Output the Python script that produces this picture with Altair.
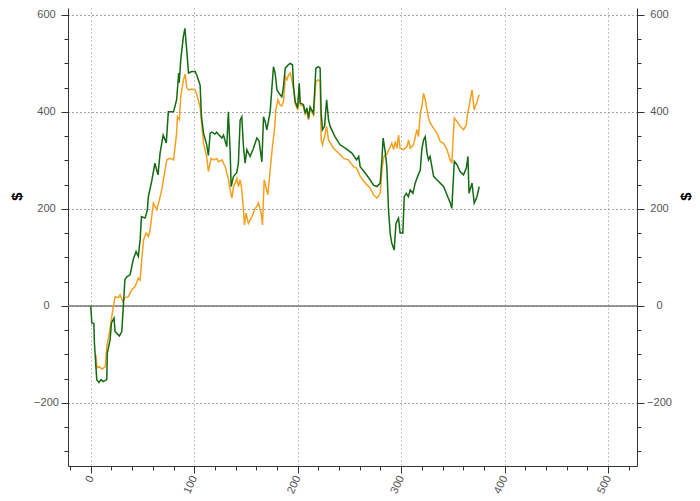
import altair as alt
import pandas as pd

green_x = [0, 1, 3, 3.5, 5.8, 8, 10, 12, 15.5, 16, 18.7, 20, 22.5, 23.5, 27.7, 30, 31.5, 33, 34.8, 38,
           41, 43.8, 46, 47.7, 49, 52.5, 54.7, 55.7, 59, 62, 65, 67, 70, 73, 75, 80, 83, 85, 85.5, 87,
           89.5, 91, 93, 94.5, 97.6, 101, 102.6, 105.7, 107, 109, 112, 113.7, 115.4, 117, 120, 121.7,
           123.3, 126.7, 128.3, 131.5, 133, 134.7, 135.7, 138, 141, 142.7, 144.4, 146, 147.6, 149.2,
           150.9, 154, 157.3, 160.5, 162.7, 165.4, 167, 168.6, 170.2, 173.4, 176.6, 178.2, 180, 183,
           184.7, 186.3, 188, 191, 192.7, 195, 196, 197.6, 200, 201.5, 202.4, 205.6, 207.3, 208.9,
           210.5, 212, 215.3, 217.6, 220, 221.7, 222.7, 224, 226, 228, 229.8, 231.4, 236, 241, 246,
           252.4, 257, 259, 260.4, 265.3, 270, 273.3, 276.6, 279.8, 281.4, 282.6, 284.6, 286.2, 287.8,
           289.5, 291, 293.3, 295, 297.5, 299, 301.7, 303, 305, 307, 308.8, 311.4, 313.6, 316, 318.5,
           320, 321.7, 323.3, 325, 326.5, 328, 331.4, 334.6, 337.8, 341, 344.3, 347.5, 349, 351.4,
           354, 357, 360.3, 363, 364.6, 365.6, 368.5, 370.7, 373.3, 375.5]
green_y = [0, -35, -36, -76, -152, -158, -152, -156, -152, -97, -70, -35, -25, -53, -62, -53, 0, 54, 60, 64,
           95, 112, 102, 136, 184, 181, 198, 225, 258, 294, 270, 315, 352, 336, 400, 400, 425, 480, 460, 507,
           555, 572, 521, 480, 483, 483, 475, 455, 390, 356, 333, 310, 356, 358, 354, 358,
           354, 346, 352, 328, 400, 322, 246, 267, 274, 294, 383, 390, 328, 294,
           322, 308, 325, 346, 340, 297, 390, 380, 363, 400, 493, 480, 445, 435,
           431, 452, 490, 497, 500, 497, 452, 421, 408, 459, 418, 415, 397, 408,
           387, 410, 397, 490, 493, 490, 397, 363, 370, 425, 384, 370, 349, 332, 325,
           315, 301, 308, 287, 274, 260, 249, 246, 253, 301, 346, 318, 287, 198,
           148, 129, 115, 170, 181, 150, 150, 225, 232, 225, 239, 232, 253, 267, 280,
           322, 342, 349, 315, 301, 308, 267, 260, 253, 246, 229, 212, 201, 298,
           291, 277, 270, 284, 308, 232, 253, 212, 225, 246]

orange_x = [5, 5.8, 8, 11, 14, 15.5, 18, 20.3, 22, 23.5, 26.8, 28.3, 31, 33, 36.4, 39.6, 42.8, 46, 47.7,
            49.3, 51, 53.5, 55.7, 57.4, 60.5, 63.8, 66.4, 68.7, 70.2, 73.5, 76.7, 80, 81.5, 83, 83.8,
            85.7, 87, 89.6, 91.2, 92.8, 94.4, 97.7, 101, 102.5, 105.7, 109, 112, 113.7, 116.3, 118.7,
            121.9, 123.5, 126.7, 129.9, 131.5, 133, 134.7, 136.4, 138, 139.6, 141.2, 142.8, 144.4, 146,
            147.6, 148.6, 150, 152.4, 155.7, 158.9, 160.5, 162.1, 164.7, 166, 167.6, 169.2, 171.2,
            173.4, 175.6, 177.6, 178.9, 180.9, 183, 184.7, 186.3, 188, 189.6, 191.2, 192.7, 194, 196,
            197.6, 200, 201.5, 202.4, 205.6, 207.3, 208.9, 210.5, 212, 215.3, 217.6, 220, 221.7, 222.7,
            224, 226, 228, 229.8, 234.6, 239.5, 244.3, 249, 254, 257, 260.4, 265.3, 270, 273.3, 276.6,
            279.8, 281.4, 283, 284, 286.2, 289.5, 291, 292.7, 294.3, 296, 297.5, 299, 302.3, 305.6,
            307.2, 308.8, 312, 315.2, 316.8, 318.5, 320, 321.7, 323.3, 325, 326.5, 328.1, 331.4, 334.6,
            337.8, 341, 344.3, 347.5, 349, 350, 351.4, 354, 357.2, 360.3, 363, 364.3, 366.2, 368.5,
            370.7, 373.3, 375.5]
orange_y = [-101, -128, -125, -130, -125, -84, -56, -22, 0, 19, 17, 23, 9, 17, 19, 33, 40, 57, 53,
            95, 136, 150, 143, 157, 212, 198, 219, 240, 260, 301, 304, 301, 328, 356, 390,
            384, 432, 466, 478, 450, 445, 447, 445, 436, 410, 335, 308, 277, 304, 301,
            304, 297, 301, 287, 274, 263, 239, 222, 246, 253, 263, 246, 260, 239,
            198, 167, 191, 170, 184, 201, 205, 212, 191, 167, 260, 246, 229,
            280, 328, 363, 404, 425, 414, 412, 421, 473, 466, 476, 480, 470, 448,
            417, 404, 455, 414, 411, 393, 404, 383, 406, 393, 462, 466, 462, 342,
            332, 349, 370, 342, 325, 315, 304, 301, 287, 284, 267, 253, 243, 229, 222,
            232, 280, 304, 310, 313, 328, 335, 322, 339, 325, 352, 325, 322, 328,
            342, 325, 332, 363, 349, 397, 411, 438, 425, 404, 387, 377, 366, 356,
            339, 335, 322, 301, 294, 335, 387, 380, 370, 363, 373, 397, 418, 445,
            404, 421, 435]

green_df = pd.DataFrame({"x": green_x, "y": green_y})
orange_df = pd.DataFrame({"x": orange_x, "y": orange_y})
zero_df = pd.DataFrame({"y": [0]})

X_DOMAIN = [-22, 528]
Y_DOMAIN = [-330, 614]
y_ticks = list(range(-300, 601, 50))
x_ticks = list(range(-20, 521, 20))

major_y = "datum.value % 200 == 0"
major_x = "datum.value % 100 == 0"


def y_axis(orient, title_x):
    return alt.Axis(
        orient=orient,
        values=y_ticks,
        labelExpr=f"{major_y} ? datum.label : ''",
        title="$",
        titleFont="Liberation Sans",
        titleFontSize=15,
        titleFontWeight="bold",
        titleColor="#000000",
        titleAngle=270,
        titleX=title_x,
        titleY=188,
        titleAlign="center",
        titleBaseline="middle",
        labelFont="Liberation Sans",
        labelFontSize=11,
        labelColor="#555555",
        labelAlign="center",
        labelBaseline="middle",
        labelPadding=15,
        tickColor="#333333",
        tickSize={"condition": {"test": major_y, "value": 7}, "value": 4},
        domainColor="#333333",
        grid=True,
        gridColor="#888888",
        gridDash=[1, 3],
        gridOpacity={"condition": {"test": major_y, "value": 1}, "value": 0},
    )


def x_axis():
    return alt.Axis(
        orient="bottom",
        values=x_ticks,
        labelExpr=f"{major_x} ? datum.label : ''",
        title=None,
        labelFont="Liberation Sans",
        labelFontSize=11,
        labelColor="#555555",
        labelAngle=-65,
        labelAlign="right",
        labelBaseline="middle",
        labelPadding=3,
        tickColor="#333333",
        tickSize={"condition": {"test": major_x, "value": 7}, "value": 4},
        domainColor="#333333",
        grid=True,
        gridColor="#888888",
        gridDash=[1, 3],
        gridOpacity={"condition": {"test": major_x, "value": 1}, "value": 0},
    )


xs = alt.Scale(domain=X_DOMAIN, nice=False, zero=False)
ys = alt.Scale(domain=Y_DOMAIN, nice=False, zero=False)

zero_rule = alt.Chart(zero_df).mark_rule(color="#777777", strokeWidth=1.5).encode(
    y=alt.Y("y:Q", scale=ys, axis=None)
)

orange_line = alt.Chart(orange_df).mark_line(color="#f5a01e", strokeWidth=1.5).encode(
    x=alt.X("x:Q", scale=xs, axis=x_axis()),
    y=alt.Y("y:Q", scale=ys, axis=y_axis("right", 48)),
)

green_line = alt.Chart(green_df).mark_line(color="#146b14", strokeWidth=1.5).encode(
    x=alt.X("x:Q", scale=xs, axis=x_axis()),
    y=alt.Y("y:Q", scale=ys, axis=y_axis("left", -52)),
)

chart = (
    alt.layer(zero_rule, orange_line, green_line)
    .resolve_axis(y="independent")
    .properties(
        width=569,
        height=458,
        autosize=alt.AutoSizeParams(type="none"),
        padding={"left": 60, "top": 0, "right": 55, "bottom": 34},
        background="white",
    )
    .configure_view(strokeWidth=0)
)

chart.save("out.html", embed_options={"renderer": "svg", "actions": False})
